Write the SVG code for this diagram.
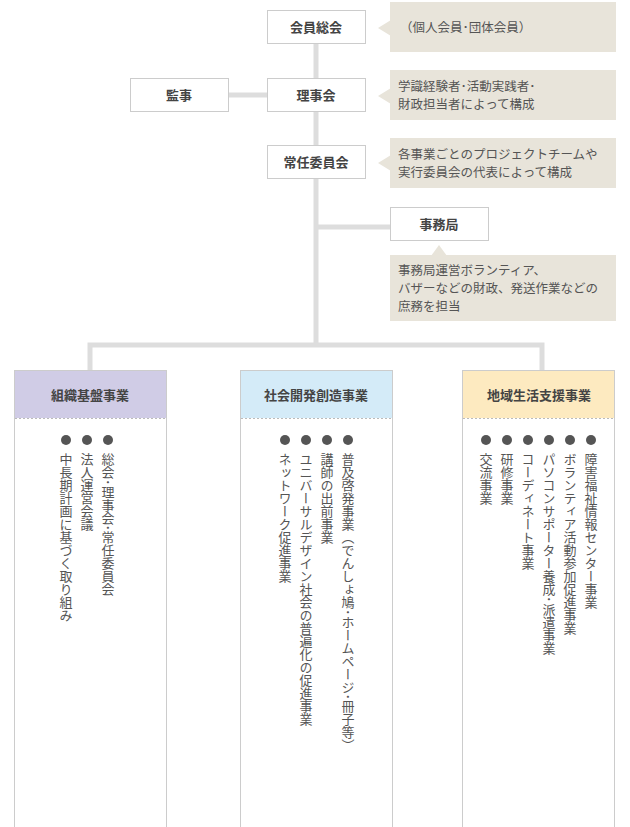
<svg xmlns="http://www.w3.org/2000/svg" width="630" height="827" viewBox="0 0 630 827">
<style>
text{font-family:"Noto Sans CJK JP",sans-serif;fill:#444}
.b{font-weight:bold;font-size:13px;text-anchor:middle}
.box{fill:#fff;stroke:#ccc;stroke-width:1}
.co{fill:#e8e4da}
.ct{font-size:12.5px;fill:#555}
.ln{stroke:#ddd;stroke-width:5;fill:none}
.v{writing-mode:vertical-rl;font-size:13px;fill:#555}
.dot{fill:#555}
.col{fill:#fff;stroke:#ccc}
.dash{stroke:#bbb;stroke-dasharray:2,2}
</style>
<g id="connectors">
<path class="ln" d="M316 43V345M228 95H267M316 227H390M90 370V345H542V370"/>
</g>
<g id="n1"><rect class="box" x="267.5" y="10.5" width="98" height="33"/><text class="b" x="316" y="32">会員総会</text></g>
<g id="c1"><rect class="co" x="390" y="2" width="226" height="50"/><path class="co" d="M378 28L391 20V36Z"/><text class="ct" x="400" y="32">（個人会員･団体会員）</text></g>
<g id="n2"><rect class="box" x="267.5" y="78.5" width="98" height="33"/><text class="b" x="316" y="100">理事会</text></g>
<g id="n0"><rect class="box" x="130.5" y="78.5" width="98" height="33"/><text class="b" x="179" y="100">監事</text></g>
<g id="c2"><rect class="co" x="390" y="70" width="226" height="50"/><path class="co" d="M378 96L391 88V104Z"/><text class="ct" x="398" y="91">学識経験者･活動実践者･</text><text class="ct" x="398" y="109">財政担当者によって構成</text></g>
<g id="n3"><rect class="box" x="267.5" y="145.5" width="98" height="33"/><text class="b" x="316" y="167">常任委員会</text></g>
<g id="c3"><rect class="co" x="390" y="138" width="226" height="50"/><path class="co" d="M378 163L391 155V171Z"/><text class="ct" x="398" y="159">各事業ごとのプロジェクトチームや</text><text class="ct" x="398" y="177">実行委員会の代表によって構成</text></g>
<g id="n4"><rect class="box" x="390.5" y="207.5" width="98" height="33"/><text class="b" x="439" y="229">事務局</text></g>
<g id="c4"><rect class="co" x="390" y="255" width="226" height="66"/><path class="co" d="M439 245L431 256H447Z"/><text class="ct" x="398" y="275">事務局運営ボランティア、</text><text class="ct" x="398" y="293">バザーなどの財政、発送作業などの</text><text class="ct" x="398" y="311">庶務を担当</text></g>
<g id="col1"><rect class="col" x="14.5" y="370.5" width="152" height="470"/><rect x="15" y="371" width="151" height="47" fill="#d0cce6"/><path class="dash" d="M15 418.5H166"/><text class="b" x="90" y="400">組織基盤事業</text>
<circle class="dot" cx="108" cy="440" r="5"/><circle class="dot" cx="87" cy="440" r="5"/><circle class="dot" cx="66" cy="440" r="5"/>
<text class="v" x="108" y="453">総会･理事会･常任委員会</text><text class="v" x="87" y="453">法人運営会議</text><text class="v" x="66" y="453">中長期計画に基づく取り組み</text></g>
<g id="col2"><rect class="col" x="240.5" y="370.5" width="152" height="470"/><rect x="241" y="371" width="151" height="47" fill="#d4ebf8"/><path class="dash" d="M241 418.5H392"/><text class="b" x="316" y="400">社会開発創造事業</text>
<circle class="dot" cx="348" cy="440" r="5"/><circle class="dot" cx="327" cy="440" r="5"/><circle class="dot" cx="306" cy="440" r="5"/><circle class="dot" cx="285" cy="440" r="5"/>
<text class="v" x="348" y="453">普及啓発事業（でんしょ鳩･ホームページ･冊子等）</text><text class="v" x="327" y="453">講師の出前事業</text><text class="v" x="306" y="453">ユニバーサルデザイン社会の普遍化の促進事業</text><text class="v" x="285" y="453">ネットワーク促進事業</text></g>
<g id="col3"><rect class="col" x="462.5" y="370.5" width="152" height="470"/><rect x="463" y="371" width="151" height="47" fill="#fdeac0"/><path class="dash" d="M463 418.5H614"/><text class="b" x="539" y="400">地域生活支援事業</text>
<circle class="dot" cx="591" cy="440" r="5"/><circle class="dot" cx="570" cy="440" r="5"/><circle class="dot" cx="549" cy="440" r="5"/><circle class="dot" cx="528" cy="440" r="5"/><circle class="dot" cx="507" cy="440" r="5"/><circle class="dot" cx="486" cy="440" r="5"/>
<text class="v" x="591" y="453">障害福祉情報センター事業</text><text class="v" x="570" y="453">ボランティア活動参加促進事業</text><text class="v" x="549" y="453">パソコンサポーター養成･派遣事業</text><text class="v" x="528" y="453">コーディネート事業</text><text class="v" x="507" y="453">研修事業</text><text class="v" x="486" y="453">交流事業</text></g>
</svg>
